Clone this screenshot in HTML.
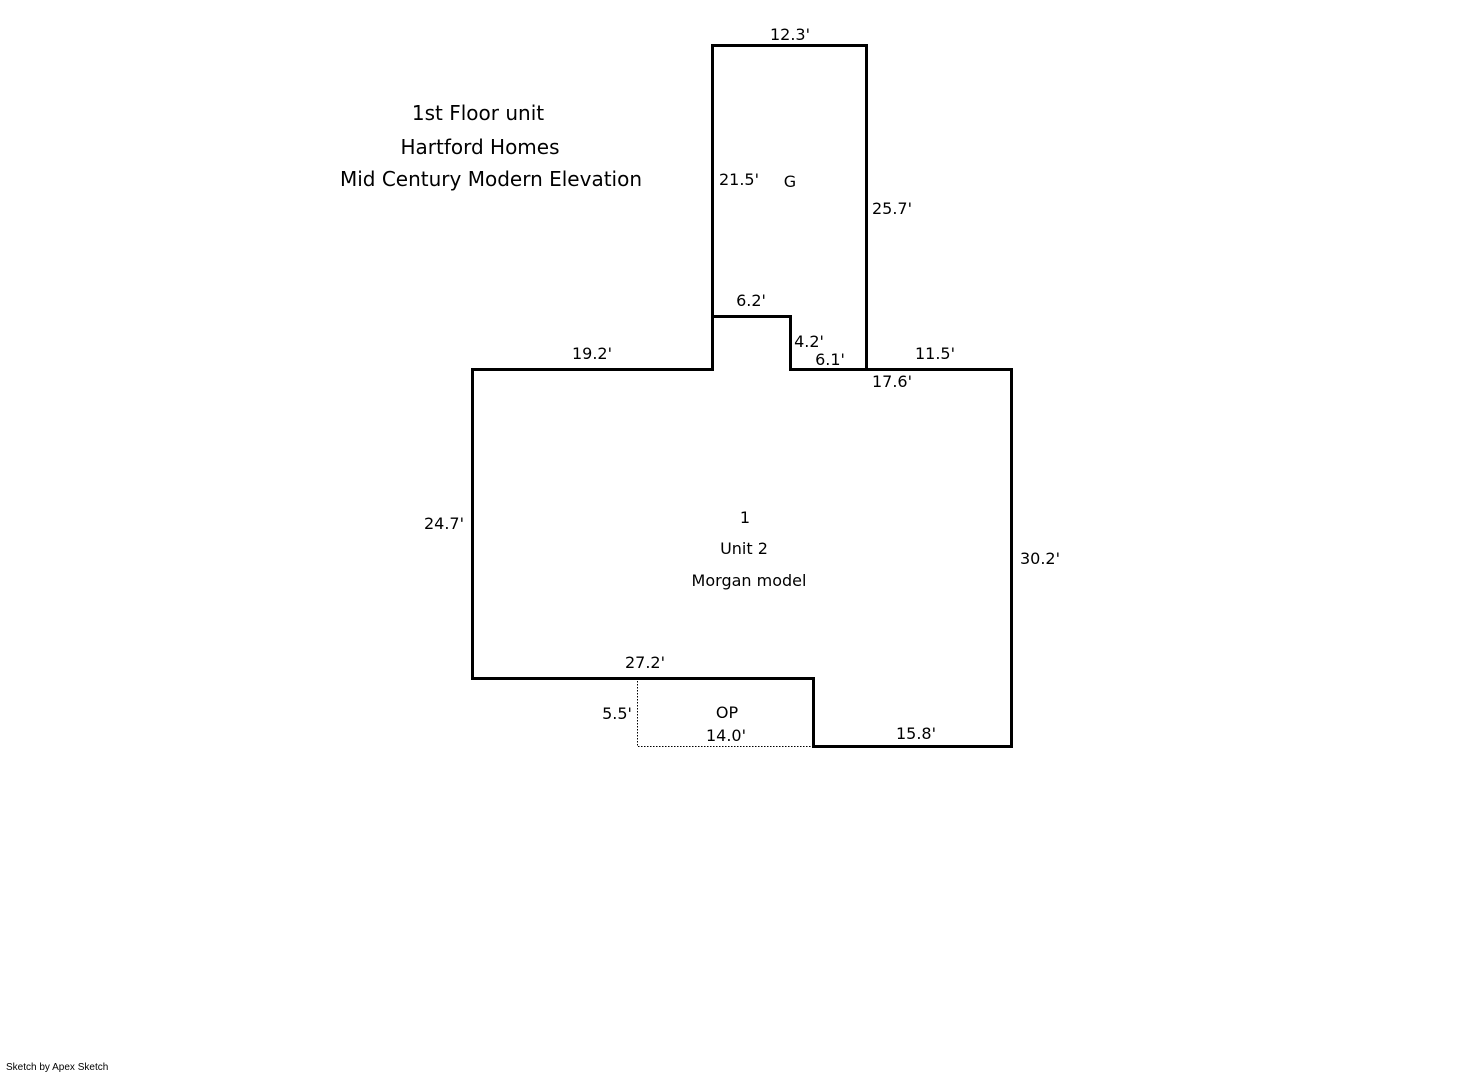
<!DOCTYPE html>
<html><head><meta charset="utf-8"><style>
html,body{margin:0;padding:0;background:#fff;width:1461px;height:1072px;overflow:hidden}
svg{display:block}
text{font-family:"DejaVu Sans","Liberation Sans",sans-serif;fill:#000}
</style></head><body>
<svg width="1461" height="1072" viewBox="0 0 1461 1072" xmlns="http://www.w3.org/2000/svg">
<g stroke="#000" stroke-width="3" fill="none" stroke-linecap="square">
<path d="M712.5 369.5 V45.5 H866.5 V369.5"/>
<path d="M712.5 316.5 H790.5 V369.5 H866.5"/>
<path d="M712.5 369.5 H472.5 V678.5 H813.5 V746.5 H1011.5 V369.5 H866.5"/>
</g>
<path d="M637.5 678 V746.5 H813" stroke="#000" stroke-width="1" stroke-dasharray="1.5 1.5" fill="none"/>
<g font-size="20" text-anchor="middle">
<text x="478" y="120">1st Floor unit</text>
<text x="480" y="154">Hartford Homes</text>
<text x="491" y="186">Mid Century Modern Elevation</text>
</g>
<g font-size="16" text-anchor="middle">
<text x="790" y="40">12.3'</text>
<text x="739" y="185">21.5'</text>
<text x="790" y="187">G</text>
<text x="892" y="214">25.7'</text>
<text x="751" y="306">6.2'</text>
<text x="809" y="347">4.2'</text>
<text x="830" y="365">6.1'</text>
<text x="592" y="359">19.2'</text>
<text x="935" y="359">11.5'</text>
<text x="892" y="387">17.6'</text>
<text x="444" y="529">24.7'</text>
<text x="1040" y="564">30.2'</text>
<text x="745" y="523">1</text>
<text x="744" y="554">Unit 2</text>
<text x="749" y="586">Morgan model</text>
<text x="645" y="668">27.2'</text>
<text x="617" y="719">5.5'</text>
<text x="727" y="718">OP</text>
<text x="726" y="741">14.0'</text>
<text x="916" y="739">15.8'</text>
</g>
<text x="6" y="1070" font-size="10" style="font-family:'Liberation Sans',sans-serif">Sketch by Apex Sketch</text>
</svg>
</body></html>
